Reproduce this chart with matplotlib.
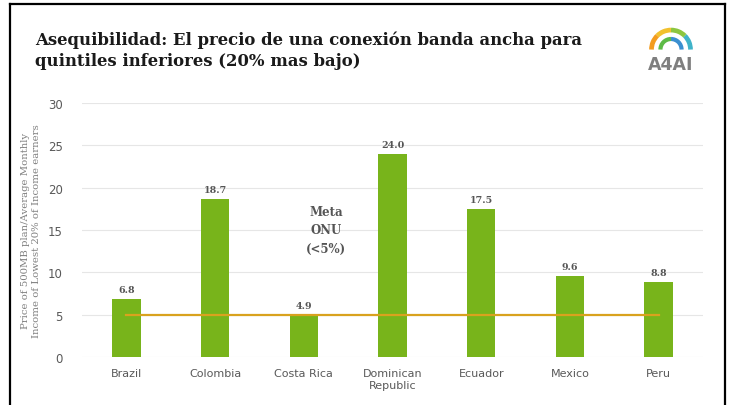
import numpy as np
import matplotlib.pyplot as plt
from matplotlib.patches import Arc
from matplotlib.lines import Line2D

# datos
countries = ['Brazil', 'Colombia', 'Costa Rica', 'Dominican\nRepublic', 'Ecuador', 'Mexico', 'Peru']
values = [6.8, 18.7, 4.9, 24.0, 17.5, 9.6, 8.8]
target = 5
y_ticks = [0, 5, 10, 15, 20, 25, 30]

W, H = 732, 406
fig = plt.figure(figsize=(W / 100, H / 100), dpi=100)
fig.patch.set_facecolor('white')

# marco negro
for xs, ys in [([10, 10], [5, H]), ([10, 725], [5, 5]), ([725, 725], [5, H])]:
    fig.add_artist(Line2D([x / W for x in xs], [1 - y / H for y in ys],
                          color='black', lw=1.6, transform=fig.transFigure))

# titulo
fig.text(35 / W, 1 - 40 / H, 'Asequibilidad: El precio de una conexión banda ancha para',
         family='DejaVu Serif', weight='bold', fontsize=11.9, color='#1a1a1a', va='center')
fig.text(35 / W, 1 - 62 / H, 'quintiles inferiores (20% mas bajo)',
         family='DejaVu Serif', weight='bold', fontsize=11.9, color='#1a1a1a', va='center')

# logo A4AI
lax = fig.add_axes([645 / W, 1 - 54 / H, 52 / W, 28 / H])
lax.set_xlim(-1.6, 1.6)
lax.set_ylim(-0.2, 1.5)
lax.set_aspect('equal')
lax.axis('off')
outer = [(0, 45, '#3fb3c9'), (45, 90, '#8cc63f'), (90, 135, '#f2c12e'), (135, 180, '#f39c1f')]
for a0, a1, c in outer:
    lax.add_patch(Arc((0, 0), 2.4, 2.4, theta1=a0, theta2=a1, color=c, lw=3.4))
lax.add_patch(Arc((0, 0), 1.3, 1.3, theta1=0, theta2=90, color='#3a8fd0', lw=3))
lax.add_patch(Arc((0, 0), 1.3, 1.3, theta1=90, theta2=180, color='#5dbb46', lw=3))
fig.text(671 / W, 1 - 65 / H, 'A4AI', ha='center', va='center', fontsize=12.5,
         weight='bold', color='#7f7f7f', family='DejaVu Sans')

# grafico
ax = fig.add_axes([82 / W, 1 - 358 / H, 621 / W, 254 / H])
x = np.arange(len(countries))
ax.bar(x, values, width=0.32, color='#78b41b', zorder=2)
ax.plot([x[0], x[-1]], [target, target], color='#d9a21e', lw=1.6, zorder=3)

for xi, v in zip(x, values):
    ax.text(xi, v + 0.6, f'{v:.1f}', ha='center', va='bottom', fontsize=6.8,
            weight='bold', color='#555555', family='DejaVu Serif')

ax.text(2.25, 15.0, 'Meta\nONU\n(<5%)', ha='center', va='center', fontsize=8.5,
        weight='bold', color='#555555', family='DejaVu Serif', linespacing=1.55)

ax.set_xlim(-0.5, 6.5)
ax.set_ylim(0, 30)
ax.set_yticks(y_ticks)
ax.set_xticks(x)
ax.set_xticklabels(countries, fontsize=8, color='#595959')
ax.tick_params(axis='y', labelsize=8.5, colors='#595959', length=0, pad=14)
ax.tick_params(axis='x', length=0, pad=8)
ax.grid(axis='y', color='#e6e6e6', lw=0.8, zorder=0)
for s in ax.spines.values():
    s.set_visible(False)

ax.set_ylabel('Price of 500MB plan/Average Monthly\nIncome of Lowest 20% of Income earners',
              fontsize=7.3, color='#7f7f7f', family='DejaVu Serif', labelpad=5)

fig.savefig('out.png', dpi=100)
